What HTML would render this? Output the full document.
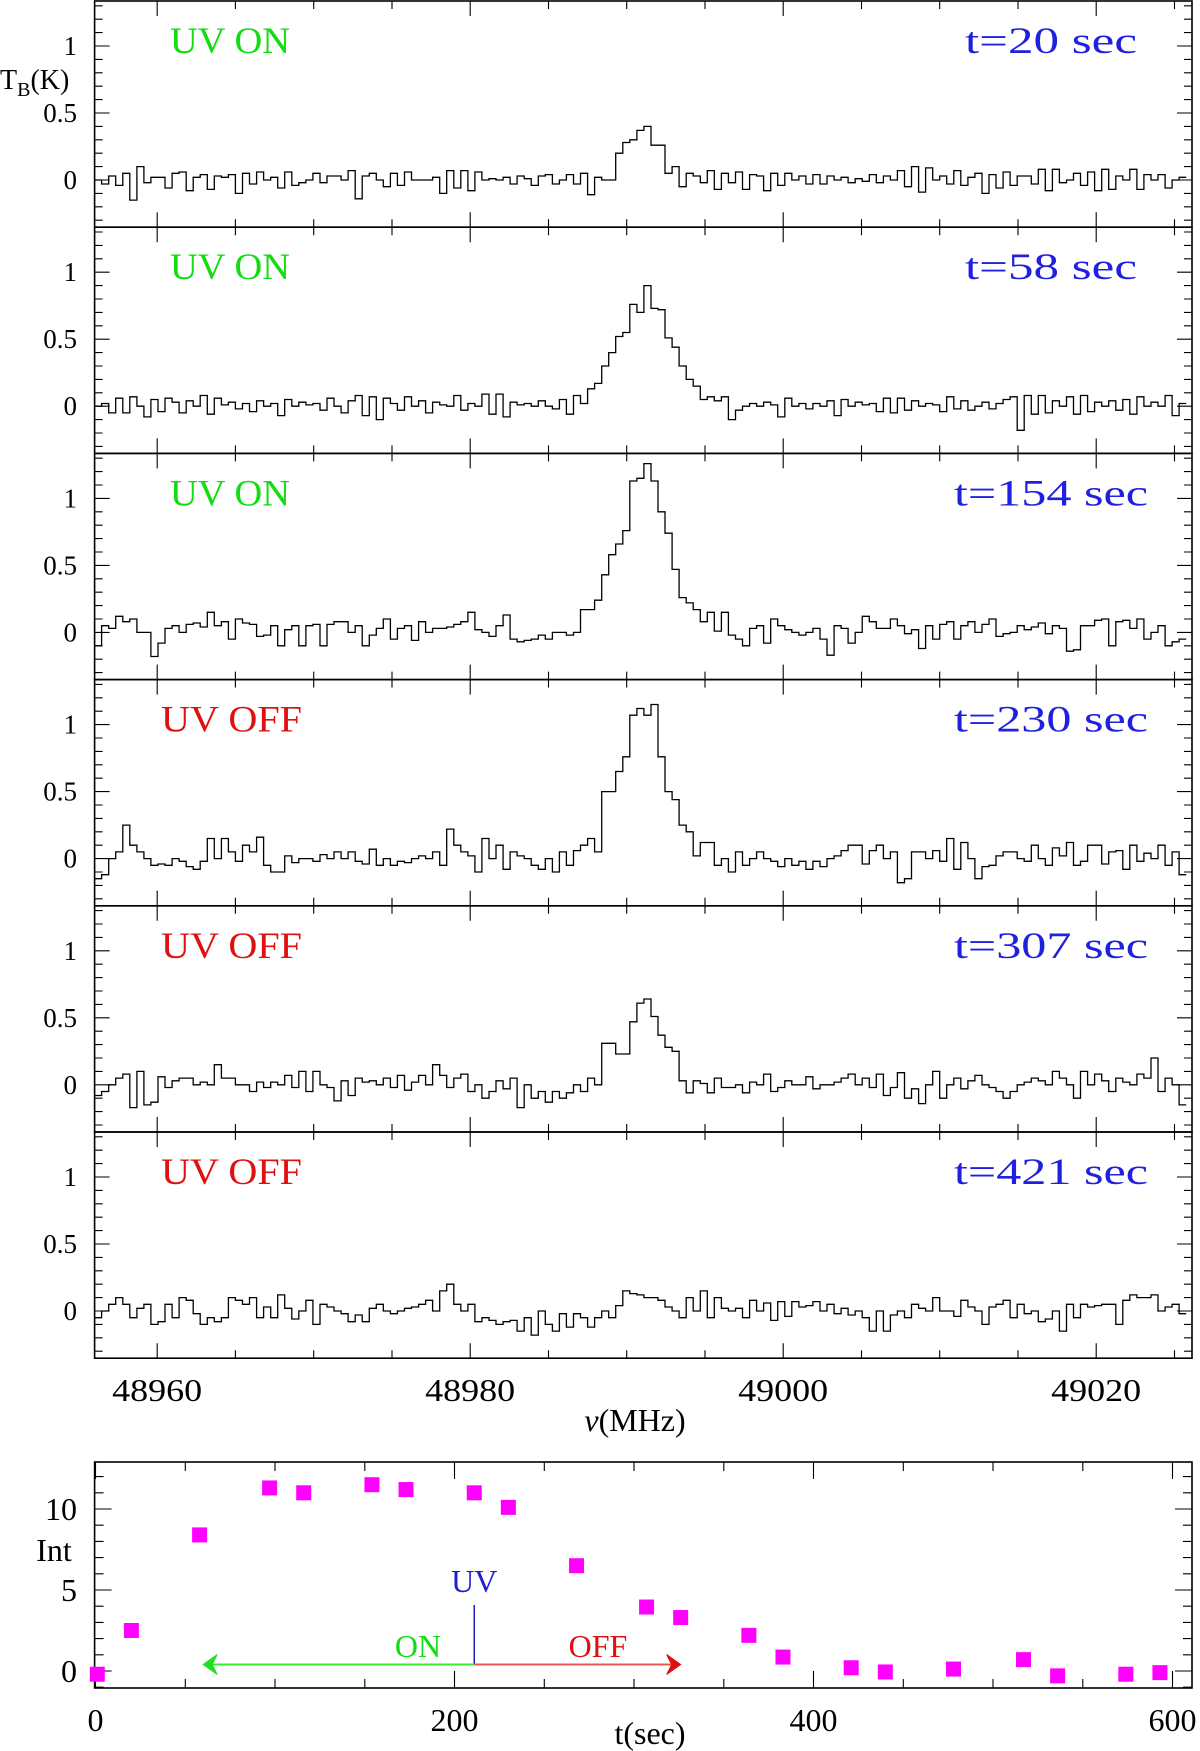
<!DOCTYPE html>
<html><head><meta charset="utf-8"><style>
html,body{margin:0;padding:0;background:#fff}
svg{display:block}
text{font-family:"Liberation Serif",serif}
</style></head><body>
<svg id="chart" width="1200" height="1751" viewBox="0 0 1200 1751" xmlns="http://www.w3.org/2000/svg">
<g id="spectra"></g>
<g id="timeplot"></g>
</svg>
<script>
// ---------- Spectra data ----------
const freqStart = 48956.0;
const chanWidth = 0.45;
const panelTimes = ["t=20 sec","t=58 sec","t=154 sec","t=230 sec","t=307 sec","t=421 sec"];
const panelStates = ["UV ON","UV ON","UV ON","UV OFF","UV OFF","UV OFF"];
const freqTicks = [48960,48980,49000,49020];
const yTicks = [0,0.5,1];
const yTickLabels = ["0","0.5","1"];

const spec1 = [0.0,-0.03,0.03,-0.04,0.05,-0.15,0.1,-0.02,0.02,0.02,
-0.06,0.05,0.06,-0.08,0.02,0.04,-0.07,0.03,0.02,0.04,
-0.1,0.05,-0.03,0.06,0.0,0.02,-0.06,0.06,-0.04,-0.02,
0.0,0.05,-0.02,0.03,0.03,0.0,0.07,-0.14,0.03,0.05,
0.0,-0.05,0.05,-0.04,0.06,0.0,0.0,0.0,0.02,-0.1,
0.07,-0.06,0.07,-0.08,0.06,0.0,0.01,0.0,0.02,-0.03,
0.03,0.01,-0.04,0.03,0.04,-0.03,0.0,0.04,-0.03,0.05,
-0.11,0.02,0.0,0.0,
0.2,0.28,0.3,0.37,0.4,0.26,0.26,0.05,
0.1,-0.05,0.05,0.03,-0.02,0.07,-0.07,0.05,-0.02,0.06,
-0.07,0.04,0.03,-0.08,0.05,-0.04,0.05,0.0,0.03,-0.03,
0.04,-0.03,0.03,0.0,0.02,-0.02,0.01,-0.01,0.04,-0.02,
0.03,0.0,0.07,-0.05,0.1,-0.09,0.09,0.0,0.03,-0.03,
0.07,-0.04,0.02,0.05,-0.1,0.04,-0.06,0.06,-0.04,0.03,
0.03,-0.03,0.08,-0.08,0.08,-0.02,0.0,0.05,-0.04,0.06,
-0.08,0.08,-0.07,0.03,0.0,0.08,-0.07,0.04,0.0,0.04,-0.06,0.0,0.02];
const spec2 = [0.0,0.02,-0.05,0.06,-0.05,0.07,0.0,-0.08,0.05,-0.04,
0.06,0.03,-0.05,0.04,0.0,0.08,-0.06,0.06,0.01,0.03,
-0.02,0.02,-0.04,0.04,0.0,0.02,-0.07,0.05,0.0,0.03,
0.01,0.02,-0.03,0.06,0.0,-0.05,0.04,0.08,-0.07,0.07,
-0.1,0.06,0.02,-0.03,0.07,0.0,0.04,-0.05,0.03,0.01,
0.0,0.08,-0.03,0.02,0.0,0.09,-0.06,0.09,-0.08,0.03,
0.01,0.02,0.0,0.04,0.0,-0.02,0.05,-0.06,0.08,
0.02,0.13,0.17,0.3,0.4,0.52,0.55,0.76,0.7,0.9,0.73,0.72,0.51,0.44,0.3,0.2,0.15,0.05,0.07,0.04,0.07,-0.1,
-0.03,0.0,0.02,0.0,0.03,0.01,-0.08,0.06,0.0,0.02,
-0.02,0.02,0.0,0.04,-0.07,0.05,0.0,0.03,0.01,0.02,
-0.04,0.06,-0.05,0.06,-0.03,0.04,0.0,0.02,0.01,-0.04,
0.07,-0.02,0.04,-0.03,0.0,0.03,-0.02,0.02,0.05,0.07,
-0.18,0.08,-0.06,0.08,-0.05,0.04,0.0,0.07,-0.06,0.08,
-0.04,0.03,0.0,0.04,-0.03,0.05,-0.06,0.07,0.0,0.03,0.0,0.08,-0.07,0.02];
const spec3 = [-0.1,0.05,0.03,0.12,0.08,0.1,0.0,0.0,-0.18,-0.08,
0.03,0.05,0.0,0.06,0.07,0.04,0.15,0.05,0.08,-0.05,
0.1,0.07,0.06,-0.03,-0.02,0.05,-0.1,0.02,0.05,-0.1,
0.05,0.06,-0.1,0.06,0.08,0.08,0.0,0.05,-0.1,-0.02,
0.03,0.1,-0.05,0.03,0.05,-0.06,0.08,0.0,0.03,0.03,
0.04,0.06,0.08,0.15,0.02,0.0,-0.03,0.05,0.13,-0.05,
-0.07,-0.06,-0.05,-0.02,-0.05,0.0,0.0,-0.02,0.0,
0.17,0.17,0.24,0.43,0.58,0.66,0.76,1.13,1.15,1.26,1.13,0.9,0.74,0.47,0.26,0.22,0.17,0.08,0.15,0.01,0.15,
-0.02,-0.05,-0.1,0.03,0.05,-0.08,0.1,0.05,0.02,0.0,
-0.02,0.0,0.03,-0.05,-0.17,0.05,0.03,-0.08,0.0,0.12,
0.08,0.03,0.03,0.1,0.05,-0.01,0.02,-0.12,0.05,-0.05,
0.06,0.08,-0.05,0.05,0.08,0.0,0.06,0.1,-0.03,-0.01,
0.0,0.05,0.02,0.04,0.07,-0.01,0.05,0.03,-0.14,-0.13,
0.05,0.05,0.09,0.1,-0.1,0.08,0.09,0.03,0.1,-0.05,0.0,0.05,-0.1,-0.07,-0.05];
const spec4 = [-0.15,-0.12,0.0,0.05,0.25,0.1,0.05,0.0,-0.05,-0.04,
-0.05,0.0,-0.02,-0.06,-0.08,-0.02,0.15,0.0,0.15,0.05,
-0.02,0.1,0.05,0.16,-0.05,-0.1,-0.1,0.02,-0.03,0.0,
0.0,-0.02,0.03,0.0,0.05,0.0,0.05,-0.02,-0.04,0.07,
-0.05,0.0,-0.05,-0.02,-0.03,0.0,0.02,0.0,0.05,-0.05,
0.22,0.1,0.05,0.02,-0.1,0.15,0.0,0.1,-0.08,0.05,
0.02,0.0,-0.05,-0.08,0.0,-0.1,0.05,-0.05,0.06,0.1,
0.15,0.05,0.5,0.5,0.65,0.76,1.07,1.12,1.07,1.15,0.76,0.5,0.44,0.25,0.2,0.02,0.12,0.12,-0.05,0.0,
-0.1,0.05,-0.05,0.0,0.05,0.0,-0.02,-0.06,0.0,-0.05,
-0.02,-0.08,-0.02,-0.06,0.0,0.02,0.06,0.1,0.1,-0.04,
0.06,0.1,0.0,0.05,-0.18,-0.15,0.05,0.05,0.0,0.06,
-0.02,0.15,-0.08,0.12,0.0,-0.15,-0.06,-0.05,0.02,0.05,
0.05,0.0,-0.02,0.1,0.0,-0.05,0.08,0.02,0.12,-0.05,
-0.02,0.1,0.1,-0.04,0.05,0.06,-0.08,0.1,-0.02,0.04,0.0,0.1,-0.05,0.05,-0.12];
const spec5 = [-0.08,-0.05,0.0,0.05,0.08,-0.17,0.1,-0.15,-0.13,0.06,
-0.02,0.03,0.05,0.05,0.0,0.02,0.0,0.15,0.05,0.05,
0.0,0.0,-0.05,0.02,-0.02,0.02,0.0,0.07,-0.02,0.1,
-0.05,0.1,0.0,-0.02,-0.12,0.03,-0.08,0.05,0.02,0.03,
0.0,0.05,-0.02,0.07,-0.04,0.02,0.07,0.0,0.15,0.07,
-0.02,0.05,0.08,-0.05,0.0,-0.1,-0.05,0.03,-0.03,0.05,
-0.17,0.0,-0.1,-0.05,-0.13,-0.05,-0.1,-0.06,0.0,-0.05,0.05,
0.0,0.31,0.31,0.23,0.23,0.47,0.61,0.64,0.51,0.37,0.28,0.25,0.03,-0.06,
0.03,0.01,-0.06,0.05,-0.02,-0.02,0.0,-0.06,0.02,0.0,
0.08,-0.05,-0.02,0.03,0.0,0.0,0.06,-0.03,0.0,0.0,
0.02,0.05,0.08,0.0,0.05,-0.02,0.08,-0.08,-0.02,0.09,
-0.1,-0.03,-0.14,0.0,0.1,-0.1,0.0,0.05,-0.03,0.03,
0.07,0.0,-0.02,-0.05,-0.1,-0.05,0.0,0.02,0.05,0.03,
0.0,0.1,0.05,0.0,-0.1,0.1,0.0,0.08,0.03,-0.05,
0.05,0.02,0.0,0.08,0.05,0.2,-0.05,0.05,0.0,-0.15];
const spec6 = [-0.05,0.0,0.05,0.1,0.05,-0.05,0.02,0.05,-0.1,-0.08,
0.05,-0.05,0.1,0.08,-0.02,
-0.1,-0.05,-0.08,-0.05,0.1,0.08,0.05,0.1,-0.05,0.03,
-0.05,0.12,0.02,-0.06,0.0,0.08,-0.1,0.05,0.03,0.0,
-0.02,-0.08,-0.03,-0.08,0.02,0.05,0.0,-0.02,0.0,0.02,
0.03,0.05,0.08,0.0,0.15,0.2,0.05,0.0,0.05,-0.08,
-0.05,-0.07,-0.1,-0.08,-0.07,-0.15,-0.05,-0.18,0.0,-0.1,
-0.15,-0.02,-0.12,-0.02,-0.05,-0.12,-0.05,0.0,-0.05,0.04,
0.15,0.13,0.12,0.1,0.1,0.08,0.03,0.0,-0.05,0.1,
0.0,0.15,-0.05,0.1,0.02,0.0,0.02,-0.05,0.08,0.0,
0.06,-0.07,0.07,-0.04,0.07,0.03,0.04,0.07,0.0,0.05,
-0.02,0.02,-0.03,0.0,-0.05,
-0.15,0.0,-0.15,-0.03,0.0,-0.05,0.05,0.02,0.0,0.1,
0.0,0.0,-0.04,0.08,0.03,0.0,-0.1,0.03,0.05,0.08,
-0.05,0.05,-0.02,0.0,-0.08,-0.06,0.0,-0.15,0.05,-0.05,
0.05,0.03,0.04,0.05,0.05,-0.1,0.08,0.12,0.1,0.1,
0.12,0.0,0.03,0.05,-0.02];
const spectra = [spec1,spec2,spec3,spec4,spec5,spec6];

// ---------- Time series data ----------
const times = [1,20,58,97,116,154,173,211,230,268,307,326,364,383,421,440,478,517,536,574,593];
const intensities = [-0.2,2.5,8.4,11.3,11.0,11.5,11.2,11.0,10.1,6.5,3.95,3.3,2.2,0.86,0.2,-0.06,0.12,0.7,-0.3,-0.2,-0.1];
const tTicks = [0,200,400,600];
const intTicks = [0,5,10];
const uvSwitchTime = 211;
const onArrowStart = 60;
const offArrowEnd = 326;

const NS = "http://www.w3.org/2000/svg";
function mk(tag, attrs, parent, txt){
  const e = document.createElementNS(NS, tag);
  for (const k in attrs) e.setAttribute(k, attrs[k]);
  if (txt !== undefined) e.textContent = txt;
  parent.appendChild(e);
  return e;
}

// ---------- Spectra axes ----------
const L = 94.6, R = 1192, PH = 226.2, TOP0 = 1;
const pxPerMHz = 15.65;
function fx(f){ return L + (f - freqStart) * pxPerMHz; }
function panelTop(k){ return TOP0 + k * PH; }
function vy(k, v){ return panelTop(k) + 179 - v * 134; }
const fMin = freqStart, fMax = freqStart + (R - L) / pxPerMHz;

const sg = document.getElementById('spectra');
const defs = mk('defs', {}, sg);
for (let k = 0; k < 6; k++){
  const cp = mk('clipPath', {id: 'clip' + k}, defs);
  mk('rect', {x: L, y: panelTop(k), width: R - L, height: PH}, cp);
}

for (let k = 0; k < 6; k++){
  const g = mk('g', {}, sg);
  
  
  const top = panelTop(k), bot = top + PH;
  const frame = mk('rect', {x: L, y: top, width: R - L, height: PH, fill: 'none', stroke: '#000', 'stroke-width': 1.6}, g);
  
  
  let d = '';
  for (let f = Math.ceil(fMin / 5) * 5; f <= fMax; f += 5){
    const x = fx(f).toFixed(1);
    const len = (f % 20 === 0) ? 15 : 8;
    d += `M${x} ${bot}v${-len}M${x} ${top}v${len}`;
  }
  for (let i = -3; i <= 13; i++){
    const v = i / 10;
    const y = vy(k, v);
    if (y < top || y > bot) continue;
    const len = (i % 5 === 0) ? 15 : 8;
    d += `M${L} ${y.toFixed(1)}h${len}M${R} ${y.toFixed(1)}h${-len}`;
  }
  const ticks = mk('path', {d: d, stroke: '#000', 'stroke-width': 1.1, fill: 'none'}, g);
  
  
  yTicks.forEach((v, i) => {
    const t = mk('text', {x: 77, y: vy(k, v) + 9, 'font-size': 27, 'text-anchor': 'end', fill: '#000'}, g, yTickLabels[i]);
    
    
  });
  const s = spectra[k];
  let p = `M${fx(freqStart).toFixed(1)} ${vy(k, s[0]).toFixed(1)}`;
  for (let i = 0; i < s.length; i++){
    p += `H${fx(freqStart + (i + 1) * chanWidth).toFixed(1)}`;
    if (i + 1 < s.length) p += `V${vy(k, s[i + 1]).toFixed(1)}`;
  }
  const line = mk('path', {d: p, stroke: '#000', 'stroke-width': 1.3, fill: 'none', 'clip-path': `url(#clip${k})`}, g);
  
  
  const on = panelStates[k] === 'UV ON';
  const st = mk('text', {x: on ? 170 : 161, y: top + 52, 'font-size': 37, fill: on ? '#11dd11' : '#e01010', textLength: on ? 120 : 141, lengthAdjust: 'spacingAndGlyphs'}, g, panelStates[k]);
  
  
  const tl = mk('text', {x: 1051, y: top + 52, 'font-size': 37, fill: '#2020e0', 'text-anchor': 'middle', textLength: panelTimes[k].length * 22 - 4, lengthAdjust: 'spacingAndGlyphs'}, g, panelTimes[k]);
  
  
}
const yt = mk('text', {x: 0, y: 89, 'font-size': 28, fill: '#000'}, sg);


mk('tspan', {}, yt, 'T');
mk('tspan', {'font-size': 20, dy: 7}, yt, 'B');
mk('tspan', {dy: -7}, yt, '(K)');
freqTicks.forEach(f => {
  const t = mk('text', {x: fx(f), y: 1401, 'font-size': 32, 'text-anchor': 'middle', fill: '#000', textLength: 90, lengthAdjust: 'spacingAndGlyphs'}, sg, String(f));
  
  
});
const xt = mk('text', {x: 635, y: 1431, 'font-size': 32, 'text-anchor': 'middle', fill: '#000'}, sg);


mk('tspan', {'font-style': 'italic'}, xt, 'ν');
mk('tspan', {}, xt, '(MHz)');

// ---------- Time plot ----------
const tg = document.getElementById('timeplot');
const BT = 1462, BB = 1688;
function tx(t){ return 95.5 + t * 1.795; }
function iy(v){ return 1671 - v * 16.2; }
const bf = mk('rect', {x: L, y: BT, width: R - L, height: BB - BT, fill: 'none', stroke: '#000', 'stroke-width': 1.6}, tg);


let td = '';
for (let t = 0; t <= 600; t += 50){
  const x = tx(t).toFixed(1);
  const len = (t % 200 === 0) ? 17 : 9;
  td += `M${x} ${BB}v${-len}M${x} ${BT}v${len}`;
}
for (let v = -1; v <= 12; v++){
  const y = iy(v);
  if (y < BT || y > BB) continue;
  const len = (v % 5 === 0) ? 17 : 9;
  td += `M${L} ${y.toFixed(1)}h${len}M${R} ${y.toFixed(1)}h${-len}`;
}
const tt = mk('path', {d: td, stroke: '#000', 'stroke-width': 1.1, fill: 'none'}, tg);


tTicks.forEach(t => {
  const e = mk('text', {x: tx(t), y: 1731, 'font-size': 32, 'text-anchor': 'middle', fill: '#000'}, tg, String(t));
  
  
});
intTicks.forEach(v => {
  const e = mk('text', {x: 77, y: iy(v) + 11, 'font-size': 32, 'text-anchor': 'end', fill: '#000'}, tg, String(v));
  
  
});
const il = mk('text', {x: 54, y: 1561, 'font-size': 32, 'text-anchor': 'middle', fill: '#000'}, tg, 'Int');


const tl2 = mk('text', {x: 650, y: 1744, 'font-size': 32, 'text-anchor': 'middle', fill: '#000'}, tg, 't(sec)');


times.forEach((t, i) => {
  const m = mk('rect', {x: tx(t) - 7.5, y: iy(intensities[i]) - 7.5, width: 15, height: 15, fill: '#ff00ff'}, tg);
  
  
});
const ux = tx(uvSwitchTime), ay = iy(0.4);
const ul = mk('line', {x1: ux, y1: 1605, x2: ux, y2: ay, stroke: '#2020c0', 'stroke-width': 1.5}, tg);


const ut = mk('text', {x: ux, y: 1592, 'font-size': 32, 'text-anchor': 'middle', fill: '#2020d0'}, tg, 'UV');


const gx = tx(onArrowStart), rx = tx(offArrowEnd);
const ga = mk('line', {x1: ux, y1: ay, x2: gx + 6, y2: ay, stroke: '#33ee33', 'stroke-width': 2}, tg);


const gh = mk('path', {d: `M${gx} ${ay}l14 -10l-5 10l5 10z`, fill: '#22dd22', stroke: '#22dd22', 'stroke-width': 1}, tg);


const ra = mk('line', {x1: ux, y1: ay, x2: rx - 6, y2: ay, stroke: '#ee5555', 'stroke-width': 2}, tg);


const rh = mk('path', {d: `M${rx} ${ay}l-14 -10l5 10l-5 10z`, fill: '#e01010', stroke: '#e01010', 'stroke-width': 1}, tg);


const ont = mk('text', {x: 418, y: 1657, 'font-size': 32, 'text-anchor': 'middle', fill: '#11dd11'}, tg, 'ON');


const oft = mk('text', {x: 598, y: 1657, 'font-size': 32, 'text-anchor': 'middle', fill: '#e01010'}, tg, 'OFF');


</script>
</body></html>
